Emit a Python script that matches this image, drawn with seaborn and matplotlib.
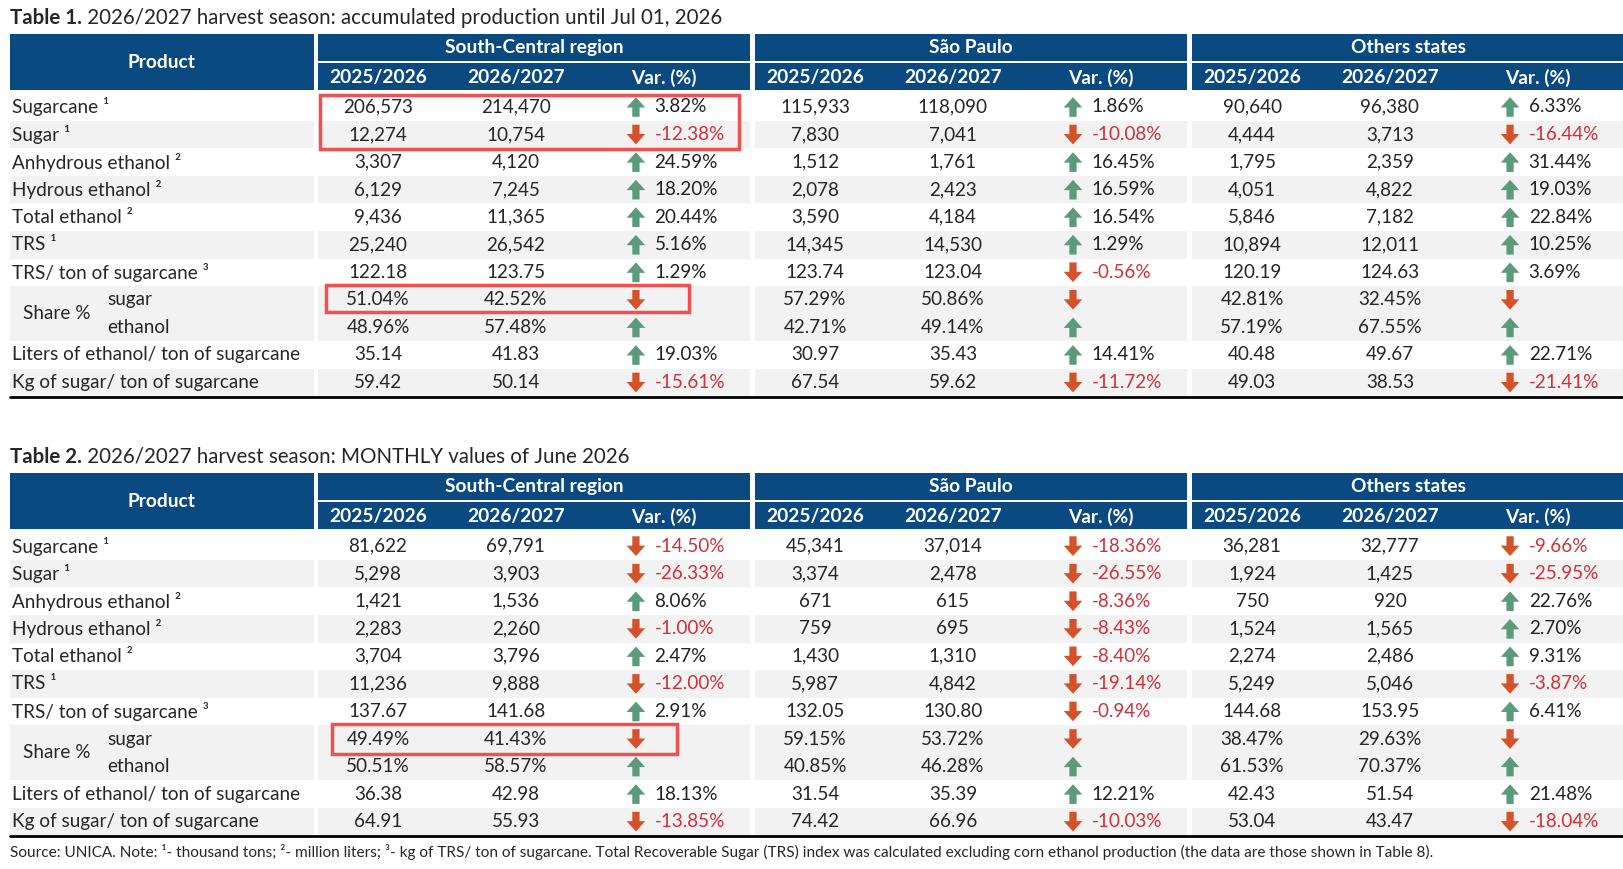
import matplotlib
matplotlib.use("Agg")
import matplotlib.pyplot as plt
import matplotlib.patches as patches
import seaborn as sns

# row labels shared by both tables
products = ["Sugarcane ¹", "Sugar ¹", "Anhydrous ethanol ²", "Hydrous ethanol ²", "Total ethanol ²",
            "TRS ¹", "TRS/ ton of sugarcane ³", "sugar", "ethanol",
            "Liters of ethanol/ ton of sugarcane", "Kg of sugar/ ton of sugarcane"]
regions = ["South-Central region", "São Paulo", "Others states"]
seasons = ["2025/2026", "2026/2027", "Var. (%)"]

# table 1: accumulated until Jul 01, 2026  (prev, curr, var) per region
t1_sc = [("206,573", "214,470", "3.82%"), ("12,274", "10,754", "-12.38%"), ("3,307", "4,120", "24.59%"),
         ("6,129", "7,245", "18.20%"), ("9,436", "11,365", "20.44%"), ("25,240", "26,542", "5.16%"),
         ("122.18", "123.75", "1.29%"), ("51.04%", "42.52%", "-"), ("48.96%", "57.48%", "+"),
         ("35.14", "41.83", "19.03%"), ("59.42", "50.14", "-15.61%")]
t1_sp = [("115,933", "118,090", "1.86%"), ("7,830", "7,041", "-10.08%"), ("1,512", "1,761", "16.45%"),
         ("2,078", "2,423", "16.59%"), ("3,590", "4,184", "16.54%"), ("14,345", "14,530", "1.29%"),
         ("123.74", "123.04", "-0.56%"), ("57.29%", "50.86%", "-"), ("42.71%", "49.14%", "+"),
         ("30.97", "35.43", "14.41%"), ("67.54", "59.62", "-11.72%")]
t1_ot = [("90,640", "96,380", "6.33%"), ("4,444", "3,713", "-16.44%"), ("1,795", "2,359", "31.44%"),
         ("4,051", "4,822", "19.03%"), ("5,846", "7,182", "22.84%"), ("10,894", "12,011", "10.25%"),
         ("120.19", "124.63", "3.69%"), ("42.81%", "32.45%", "-"), ("57.19%", "67.55%", "+"),
         ("40.48", "49.67", "22.71%"), ("49.03", "38.53", "-21.41%")]

# table 2: monthly values of June 2026
t2_sc = [("81,622", "69,791", "-14.50%"), ("5,298", "3,903", "-26.33%"), ("1,421", "1,536", "8.06%"),
         ("2,283", "2,260", "-1.00%"), ("3,704", "3,796", "2.47%"), ("11,236", "9,888", "-12.00%"),
         ("137.67", "141.68", "2.91%"), ("49.49%", "41.43%", "-"), ("50.51%", "58.57%", "+"),
         ("36.38", "42.98", "18.13%"), ("64.91", "55.93", "-13.85%")]
t2_sp = [("45,341", "37,014", "-18.36%"), ("3,374", "2,478", "-26.55%"), ("671", "615", "-8.36%"),
         ("759", "695", "-8.43%"), ("1,430", "1,310", "-8.40%"), ("5,987", "4,842", "-19.14%"),
         ("132.05", "130.80", "-0.94%"), ("59.15%", "53.72%", "-"), ("40.85%", "46.28%", "+"),
         ("31.54", "35.39", "12.21%"), ("74.42", "66.96", "-10.03%")]
t2_ot = [("36,281", "32,777", "-9.66%"), ("1,924", "1,425", "-25.95%"), ("750", "920", "22.76%"),
         ("1,524", "1,565", "2.70%"), ("2,274", "2,486", "9.31%"), ("5,249", "5,046", "-3.87%"),
         ("144.68", "153.95", "6.41%"), ("38.47%", "29.63%", "-"), ("61.53%", "70.37%", "+"),
         ("42.43", "51.54", "21.48%"), ("53.04", "43.47", "-18.04%")]

titles = [("Table 1.", " 2026/2027 harvest season: accumulated production until Jul 01, 2026"),
          ("Table 2.", " 2026/2027 harvest season: MONTHLY values of June 2026")]
source = ("Source: UNICA. Note: ¹- thousand tons; ²- million liters; ³- kg of TRS/ ton of sugarcane. "
          "Total Recoverable Sugar (TRS) index was calculated excluding corn ethanol production "
          "(the data are those shown in Table 8).")

sns.set_theme(style="white")
plt.rcParams["font.family"] = ["Lato", "DejaVu Sans"]

BLUE = "#0b4a80"
GREY = "#f2f2f2"
UP = "#5b9b7c"
DOWN = "#d4522a"
RED_TXT = "#d0303a"
FS = 13.6
FSH = 13.8

fig = plt.figure(figsize=(16.24, 8.69), dpi=100)
ax = fig.add_axes([0, 0, 1, 1])
ax.set_xlim(0, 1568)
ax.set_ylim(839, 0)
ax.axis("off")

group_x = [307, 729, 1151]
GW = 417
RH = 26.6
shaded = [1, 3, 5, 7, 8, 10]


def arrow(x, yc, up):
    col = UP if up else DOWN
    h = 19
    d = -1 if up else 1
    a = patches.FancyArrow(x, yc - d * h / 2, 0, d * h, width=7, head_width=18, head_length=10,
                           length_includes_head=True, color=col, lw=0)
    ax.add_patch(a)


def draw_table(top, title, data):
    tw = ax.text(10, top - 16, title[0], fontsize=14.8, fontweight="bold", va="center", ha="left")
    fig.canvas.draw()
    bb = tw.get_window_extent().transformed(ax.transData.inverted())
    ax.text(bb.x1, top - 16, title[1], fontsize=14.8, va="center", ha="left")

    # header
    ax.add_patch(patches.Rectangle((10, top), 293, 54, color=BLUE, lw=0))
    ax.text(156, top + 27, "Product", color="white", fontsize=FSH, fontweight="bold", ha="center", va="center")
    for g, name in zip(group_x, regions):
        ax.add_patch(patches.Rectangle((g, top), GW, 26, color=BLUE, lw=0))
        ax.add_patch(patches.Rectangle((g, top + 28), GW, 26, color=BLUE, lw=0))
        ax.text(g + GW / 2, top + 13, name, color="white", fontsize=FSH, fontweight="bold", ha="center", va="center")
        for cx, s in zip([58, 191, 334], seasons):
            ax.text(g + cx, top + 42, s, color="white", fontsize=FSH, fontweight="bold", ha="center", va="center")

    y0 = top + 57
    for i, lab in enumerate(products):
        yc = y0 + RH * (i + 0.5)
        if i in shaded:
            ax.add_patch(patches.Rectangle((10, y0 + RH * i), 293, RH, color=GREY, lw=0))
            for g in group_x:
                ax.add_patch(patches.Rectangle((g, y0 + RH * i), GW, RH, color=GREY, lw=0))
        if i == 7:
            ax.text(22, yc + RH / 2, "Share %", fontsize=FS, va="center")
            ax.text(104, yc, lab, fontsize=FS, va="center")
        elif i == 8:
            ax.text(104, yc, lab, fontsize=FS, va="center")
        else:
            ax.text(12, yc, lab, fontsize=FS, va="center")
        for g, rows in zip(group_x, data):
            a, b, v = rows[i]
            ax.text(g + 58, yc, a, fontsize=FS, ha="center", va="center")
            ax.text(g + 191, yc, b, fontsize=FS, ha="center", va="center")
            up = not v.startswith("-")
            arrow(g + 307, yc, up)
            if v not in ("+", "-"):
                ax.text(g + 325, yc, v, fontsize=FS, ha="left", va="center",
                        color=RED_TXT if not up else "#222222")
    ax.plot([10, 1568], [y0 + RH * 11 + 1, y0 + RH * 11 + 1], color="black", lw=2)
    return y0


r1 = draw_table(33, titles[0], [t1_sc, t1_sp, t1_ot])
r2 = draw_table(457, titles[1], [t2_sc, t2_sp, t2_ot])

# highlight boxes
box = dict(fill=False, ec="#f05050", lw=2.5)
ax.add_patch(patches.Rectangle((309, r1 + 2), 405, 52, **box))
ax.add_patch(patches.Rectangle((315, r1 + RH * 7 - 1), 350, 26, **box))
ax.add_patch(patches.Rectangle((321, r2 + RH * 7 - 1), 333, 29, **box))

ax.text(10, 823, source, fontsize=11.1, va="center", ha="left")

fig.savefig("out.png", dpi=100)
